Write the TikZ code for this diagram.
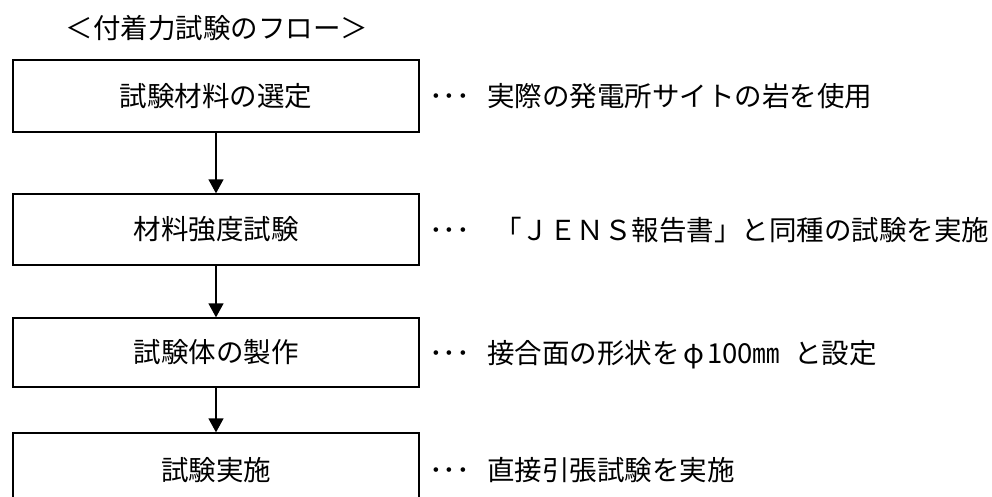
\documentclass[tikz,border=0pt]{standalone}
\usepackage{fontspec}
\newfontfamily\jpfont{Noto Sans CJK JP}
\usetikzlibrary{arrows.meta}
\begin{document}
\begin{tikzpicture}[x=1pt,y=-1pt,
  flowbox/.style={draw=black,line width=1.3pt,minimum width=406pt,inner sep=0pt,
    font=\jpfont\fontsize{27.5}{31}\selectfont},
  arr/.style={draw=black,line width=1.3pt,-{Triangle[width=15pt,length=14pt]}},
  dots/.style={anchor=base west,inner sep=0pt,font=\jpfont\fontsize{27.5}{31}\selectfont},
  note/.style={anchor=base west,inner sep=0pt,font=\jpfont\fontsize{27.5}{31}\selectfont},
  ttl/.style={inner sep=0pt,font=\jpfont\fontsize{27.5}{31}\selectfont}]
\useasboundingbox (0,0) rectangle (992,497);
\clip (0,0) rectangle (992,497);
\fill[white] (0,0) rectangle (992,497);

\node[ttl] (title) at (217,28) {＜付着力試験のフロー＞};

\node[flowbox,minimum height=72pt] (b1) at (216,96) {試験材料の選定};
\node[flowbox,minimum height=71pt] (b2) at (216,229.5) {材料強度試験};
\node[flowbox,minimum height=69pt] (b3) at (216,352.5) {試験体の製作};
\node[flowbox,minimum height=74pt] (b4) at (216,470) {試験実施};

\draw[arr] (b1) -- (b2);
\draw[arr] (b2) -- (b3);
\draw[arr] (b3) -- (b4);

\node[dots] (d1) at (429,106.5) {･･･};
\node[dots] (d2) at (429,240) {･･･};
\node[dots] (d3) at (429,363) {･･･};
\node[dots] (d4) at (429,480.5) {･･･};

\node[note] (n1) at (487,106.5) {実際の発電所サイトの岩を使用};
\node[note] (n2) at (494,240) {「ＪＥＮＳ報告書」と同種の試験を実施};
\node[note] (n3) at (487,363) {接合面の形状を\makebox[1em][c]{φ}100㎜\hspace{0.5em}と設定};
\node[note] (n4) at (487,480.5) {直接引張試験を実施};
\end{tikzpicture}
\end{document}
